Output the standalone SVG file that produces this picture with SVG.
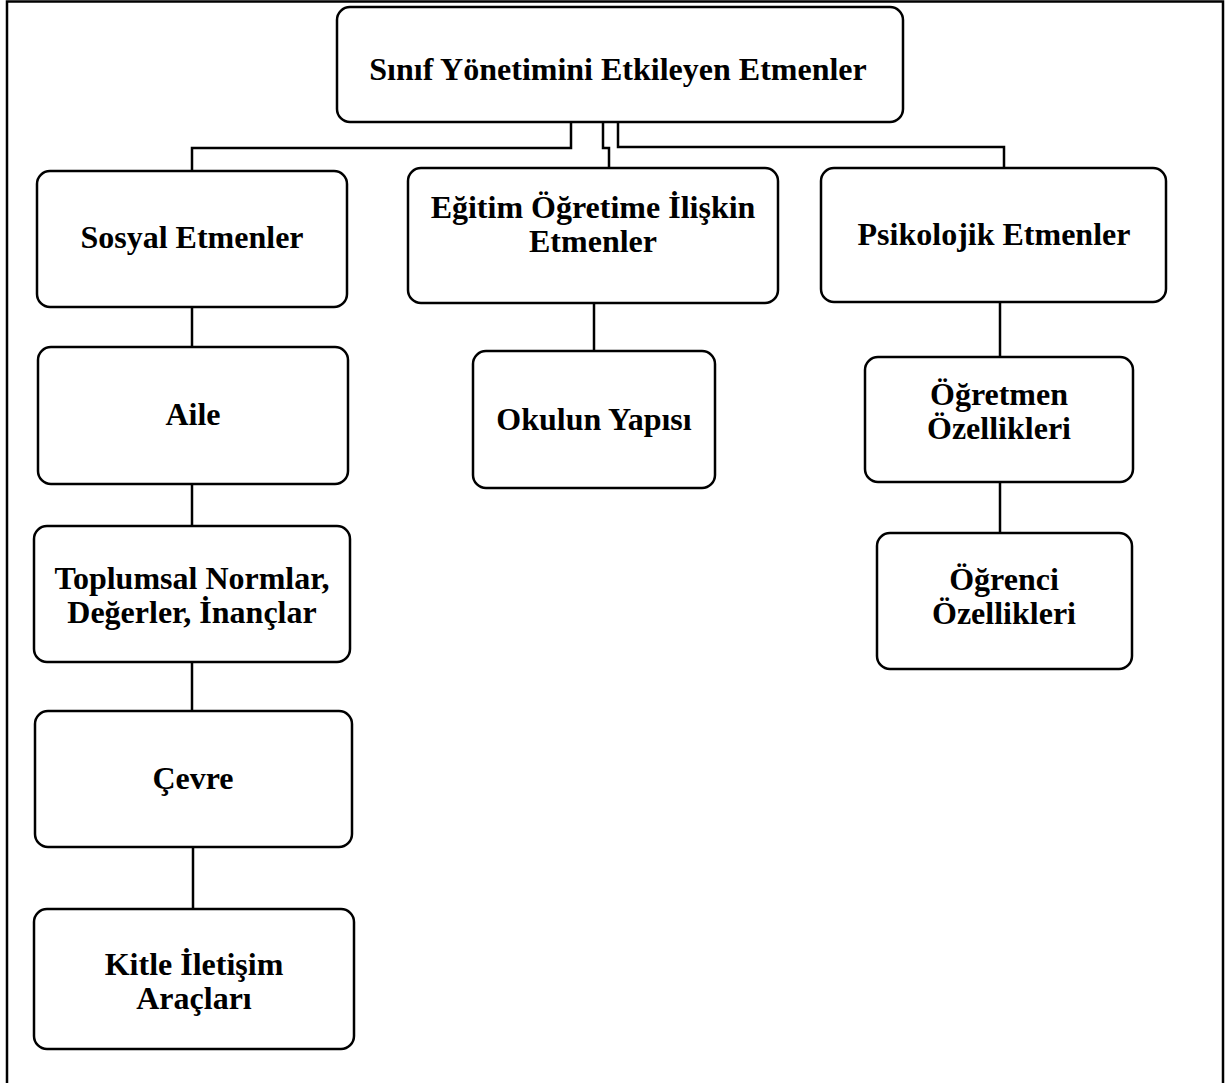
<svg xmlns="http://www.w3.org/2000/svg" width="1227" height="1083" viewBox="0 0 1227 1083">
<style>
.box{fill:#fff;stroke:#000;stroke-width:2.5}
.ln{fill:none;stroke:#000;stroke-width:2.5}
text{font-family:"Liberation Serif","Times New Roman",serif;font-weight:bold;font-size:32px;text-anchor:middle;fill:#000}
</style>
<rect width="1227" height="1083" fill="#fff"/>
<polyline class="ln" points="7,1083 7,1.5 1223,1.5 1223,1083" stroke-width="2"/>
<g id="connectors">
<polyline class="ln" points="571,122 571,148 192,148 192,171"/>
<polyline class="ln" points="603,122 603,148 609,148 609,168"/>
<polyline class="ln" points="618,122 618,147 1004,147 1004,168"/>
<line class="ln" x1="192" y1="307" x2="192" y2="347"/>
<line class="ln" x1="192" y1="484" x2="192" y2="526"/>
<line class="ln" x1="192" y1="662" x2="192" y2="711"/>
<line class="ln" x1="193" y1="847" x2="193" y2="909"/>
<line class="ln" x1="594" y1="303" x2="594" y2="351"/>
<line class="ln" x1="1000" y1="302" x2="1000" y2="357"/>
<line class="ln" x1="1000" y1="482" x2="1000" y2="533"/>
</g>
<g id="n-root"><rect class="box" x="337" y="7" width="566" height="115" rx="13"/><text x="618" y="80">Sınıf Yönetimini Etkileyen Etmenler</text></g>
<g id="n-sosyal"><rect class="box" x="37" y="171" width="310" height="136" rx="13"/><text x="192" y="248">Sosyal Etmenler</text></g>
<g id="n-egitim"><rect class="box" x="408" y="168" width="370" height="135" rx="13"/><text x="593" y="218">Eğitim Öğretime İlişkin</text><text x="593" y="252">Etmenler</text></g>
<g id="n-psikolojik"><rect class="box" x="821" y="168" width="345" height="134" rx="13"/><text x="994" y="245">Psikolojik Etmenler</text></g>
<g id="n-aile"><rect class="box" x="38" y="347" width="310" height="137" rx="13"/><text x="193" y="425">Aile</text></g>
<g id="n-okul"><rect class="box" x="473" y="351" width="242" height="137" rx="13"/><text x="594" y="430">Okulun Yapısı</text></g>
<g id="n-ogretmen"><rect class="box" x="865" y="357" width="268" height="125" rx="13"/><text x="999" y="405">Öğretmen</text><text x="999" y="439">Özellikleri</text></g>
<g id="n-toplumsal"><rect class="box" x="34" y="526" width="316" height="136" rx="13"/><text x="192" y="589">Toplumsal Normlar,</text><text x="192" y="623">Değerler, İnançlar</text></g>
<g id="n-ogrenci"><rect class="box" x="877" y="533" width="255" height="136" rx="13"/><text x="1004" y="590">Öğrenci</text><text x="1004" y="624">Özellikleri</text></g>
<g id="n-cevre"><rect class="box" x="35" y="711" width="317" height="136" rx="13"/><text x="193" y="789">Çevre</text></g>
<g id="n-kitle"><rect class="box" x="34" y="909" width="320" height="140" rx="13"/><text x="194" y="975">Kitle İletişim</text><text x="194" y="1009">Araçları</text></g>
</svg>
